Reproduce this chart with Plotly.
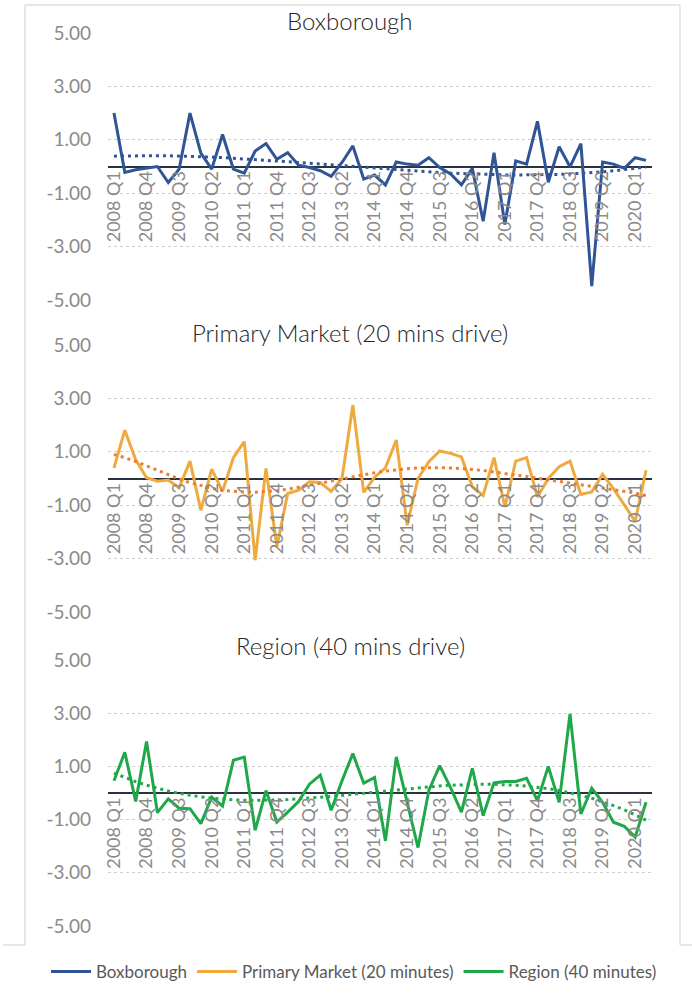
import numpy as np
import plotly.graph_objects as go

# quarterly categories 2008 Q1 .. 2020 Q2
quarters = [f"{y} Q{q}" for y in range(2008, 2021) for q in range(1, 5)][:50]

boxborough = [2.0, -0.22, -0.12, -0.05, 0.0, -0.6, -0.1, 2.0, 0.5, -0.1,
              1.2, -0.1, -0.25, 0.58, 0.86, 0.27, 0.52, 0.05, -0.04, -0.16,
              -0.37, 0.15, 0.77, -0.47, -0.32, -0.69, 0.17, 0.09, 0.05, 0.33,
              -0.04, -0.28, -0.69, -0.07, -2.05, 0.52, -2.17, 0.21, 0.09, 1.69,
              -0.59, 0.74, -0.01, 0.86, -4.48, 0.17, 0.09, -0.07, 0.33, 0.23]

primary = [0.4, 1.81, 0.7, 0.03, -0.1, -0.06, -0.35, 0.65, -1.19, 0.35,
           -0.48, 0.78, 1.38, -3.06, 0.38, -2.56, -0.56, -0.44, -0.12, -0.15,
           -0.48, 0.0, 2.75, -0.52, 0.05, 0.4, 1.44, -1.75, 0.0, 0.63,
           1.03, 0.94, 0.81, -0.31, -0.63, 0.78, -1.06, 0.65, 0.78, -0.69,
           0.0, 0.44, 0.65, -0.6, -0.5, 0.15, -0.38, -1.0, -1.6, 0.31]

region = [0.46, 1.53, -0.32, 1.94, -0.74, -0.22, -0.57, -0.59, -1.15, -0.16,
          -0.49, 1.23, 1.35, -1.4, 0.09, -1.09, -0.72, -0.32, 0.33, 0.67,
          -0.65, 0.46, 1.48, 0.37, 0.58, -1.8, 1.36, -0.4, -2.05, 0.1,
          1.03, 0.2, -0.72, 0.93, -0.85, 0.38, 0.43, 0.43, 0.55, -0.29,
          1.0, -0.35, 2.97, -0.79, 0.18, -0.35, -1.1, -1.25, -1.66, -0.35]

panel_titles = ["Boxborough", "Primary Market (20 mins drive)", "Region (40 mins drive)"]
legend_names = ["Boxborough", "Primary Market (20 minutes)", "Region (40 minutes)"]
y_ticks = [-5, -3, -1, 1, 3, 5]
y_ticktext = ["-5.00", "-3.00", "-1.00", "1.00", "3.00", "5.00"]
x_tick_idx = list(range(0, 50, 3))
trend_orders = [3, 6, 3]   # polynomial trendline order per panel

W, H = 692, 996
PLOT_L, PLOT_R = 108, 652
FONT = "Lato"
GREY = "#8a8a8a"


def px_x(px):
    return px / W


def px_y(py):
    return 1 - py / H


series = [boxborough, primary, region]
colors = ["#2F5597", "#EEAA3F", "#1FA84A"]
trend_colors = ["#2F5597", "#ED7D31", "#1FA84A"]
# pixel top / bottom of each plot area (5.00 and -5.00 gridlines)
panels_px = [(33, 300), (345, 612), (660, 926)]
title_px = [20, 333, 645]

x = np.arange(len(quarters))
fig = go.Figure()
layout = {}

for k, vals in enumerate(series):
    sfx = "" if k == 0 else str(k + 1)
    top, bot = panels_px[k]
    dom = [px_y(bot), px_y(top)]

    fig.add_trace(go.Scatter(
        x=x, y=vals, mode="lines", name=legend_names[k],
        line=dict(color=colors[k], width=3),
        xaxis="x" + sfx, yaxis="y" + sfx, showlegend=True))

    # Excel-style polynomial trendline
    coef = np.polyfit(x, vals, trend_orders[k])
    fig.add_trace(go.Scatter(
        x=x, y=np.polyval(coef, x), mode="lines",
        line=dict(color=trend_colors[k], width=3, dash="3px,4px"),
        xaxis="x" + sfx, yaxis="y" + sfx, showlegend=False, hoverinfo="skip"))

    layout["yaxis" + sfx] = dict(
        domain=dom, range=[-5, 5], tickmode="array", tickvals=y_ticks,
        ticktext=y_ticktext, showgrid=True, gridcolor="#d0d0d0", griddash="dot",
        gridwidth=1, zeroline=True, zerolinecolor="#2b3340", zerolinewidth=2,
        ticks="", ticklabelstandoff=16, anchor="x" + sfx, automargin=False,
        tickfont=dict(family=FONT, size=19, color=GREY), fixedrange=True)
    layout["xaxis" + sfx] = dict(
        domain=[px_x(PLOT_L), px_x(PLOT_R)],
        range=[-0.55, len(quarters) - 0.45], anchor="free",
        position=(dom[0] + dom[1]) / 2, tickmode="array",
        tickvals=x_tick_idx, ticktext=[quarters[i] for i in x_tick_idx],
        tickangle=-90, showgrid=False, zeroline=False, showline=False, ticks="",
        automargin=False,
        tickfont=dict(family=FONT, size=18, color=GREY), fixedrange=True)

annotations = [dict(text=t, x=px_x(350), y=px_y(title_px[k]), xref="paper",
                    yref="paper", showarrow=False, xanchor="center",
                    yanchor="middle",
                    font=dict(family=FONT, size=24, color="#262626", weight=300))
               for k, t in enumerate(panel_titles)]

frame = dict(color="#cfcfcf", width=1)
shapes = [
    dict(type="line", xref="paper", yref="paper", x0=px_x(25), x1=px_x(25),
         y0=px_y(5), y1=px_y(945), line=frame),
    dict(type="line", xref="paper", yref="paper", x0=px_x(25), x1=px_x(680),
         y0=px_y(5), y1=px_y(5), line=frame),
    dict(type="line", xref="paper", yref="paper", x0=px_x(680), x1=px_x(680),
         y0=px_y(5), y1=px_y(945), line=frame),
    dict(type="line", xref="paper", yref="paper", x0=px_x(3), x1=px_x(25),
         y0=px_y(945), y1=px_y(945), line=frame),
    dict(type="line", xref="paper", yref="paper", x0=px_x(680), x1=px_x(692),
         y0=px_y(945), y1=px_y(945), line=frame),
]

fig.update_layout(
    width=W, height=H,
    margin=dict(l=0, r=0, t=0, b=0, autoexpand=False),
    paper_bgcolor="white", plot_bgcolor="white",
    font=dict(family=FONT, color=GREY),
    annotations=annotations, shapes=shapes,
    legend=dict(orientation="h", x=px_x(354), xanchor="center",
                y=px_y(972), yanchor="middle",
                font=dict(family=FONT, size=17, color="#595959"),
                itemwidth=40, tracegroupgap=0),
    **layout,
)

# drop the browser's default page margin so the figure sits at the window origin
fig.write_html("out.html", config={"displayModeBar": False},
               post_script="document.body.style.margin='0';")
